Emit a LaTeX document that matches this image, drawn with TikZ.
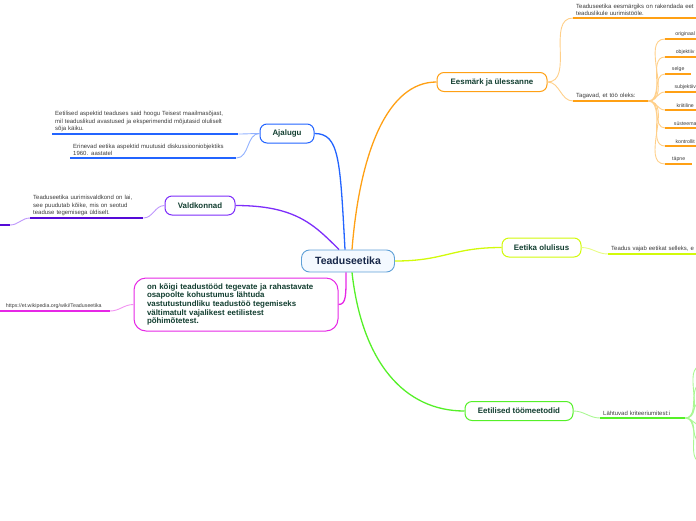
\documentclass[tikz,border=0pt]{standalone}
\usepackage{fontspec}
\setmainfont{Liberation Sans}
\definecolor{RootLine}{RGB}{95,160,215}
\definecolor{RootFill}{RGB}{244,249,255}
\definecolor{RootText}{RGB}{22,38,72}
\definecolor{BoxText}{RGB}{18,62,48}
\definecolor{LeafText}{RGB}{60,60,60}
\definecolor{BranchOrange}{RGB}{255,160,20}
\definecolor{BranchBlue}{RGB}{35,100,255}
\definecolor{BranchPurple}{RGB}{125,45,250}
\definecolor{DeepPurple}{RGB}{85,10,215}
\definecolor{BranchMagenta}{RGB}{230,40,230}
\definecolor{BranchLime}{RGB}{210,250,10}
\definecolor{BranchGreen}{RGB}{85,240,40}
\usetikzlibrary{calc}

\begin{document}
\begin{tikzpicture}[x=1pt,y=-1pt,
  mainbox/.style={draw=#1,fill=white,rounded corners=7pt,line width=1pt,font=\fontsize{7.9}{8.6}\selectfont\bfseries,text=BoxText,minimum height=19pt,inner xsep=6pt},
  leaf/.style={anchor=south west,font=\fontsize{6}{7.4}\selectfont,text=LeafText,align=left,inner xsep=3pt,inner ysep=2pt},
  uline/.style={draw=#1,line width=1.6pt},
  link/.style={draw=#1,line width=1.3pt},
  twig/.style={draw=#1!50,line width=0.9pt}]
  \useasboundingbox (0,0) rectangle (696,520);
  \clip (0,0) rectangle (696,520);

  \node[draw=RootLine,fill=RootFill,rounded corners=8pt,line width=0.9pt,minimum width=93pt,minimum height=22pt,font=\fontsize{10.5}{12}\selectfont\bfseries,text=RootText] (root) at (348,261) {Teaduseetika};

  \node[mainbox=BranchOrange,minimum width=110pt] (goal) at (492,82) {Eesmärk ja ülessanne};
  \node[mainbox=BranchBlue,minimum width=54pt] (hist) at (287,133.5) {Ajalugu};
  \node[mainbox=BranchPurple,minimum width=70pt] (field) at (200,205.5) {Valdkonnad};
  \node[mainbox=BranchMagenta,minimum width=204pt,minimum height=53pt,text width=178pt,align=left,inner xsep=13pt,rounded corners=12pt] (duty) at (236,304.5) {on kõigi teadustööd tegevate ja rahastavate\\osapoolte kohustumus lähtuda\\vastutustundliku teadustöö tegemiseks\\vältimatult vajalikest eetilistest\\põhimõtetest.};
  \node[mainbox=BranchLime,minimum width=79pt] (need) at (541.5,247.5) {Eetika olulisus};
  \node[mainbox=BranchGreen,minimum width=108pt] (method) at (519,411) {Eetilised töömeetodid};

  \draw[link=BranchOrange] ($(root.north)+(4,0)$) .. controls +(8,-100) and +(-48,0) .. (goal.west);
  \draw[link=BranchBlue] (hist.east) .. controls +(25,0) and +(-5,-90) .. ($(root.north)+(-3,0)$);
  \draw[link=BranchPurple] (field.east) .. controls +(60,0) and +(-25,-25) .. ($(root.north)+(-9,0)$);
  \draw[link=BranchMagenta] ($(root.south)+(-2,0)$) .. controls +(0,22) and +(8,0) .. (duty.east);
  \draw[link=BranchLime] (root.east) .. controls +(50,0) and +(-50,0) .. (need.west);
  \draw[link=BranchGreen] ($(root.south)+(4,0)$) .. controls +(10,90) and +(-60,0) .. (method.west);

  \node[leaf,text width=200pt] (goalA) at (573,18) {Teaduseetika eesmärgiks on rakendada eet\\teaduslikule uurimistööle.};
  \node[leaf,text width=69pt] (goalB) at (573,101) {Tagavad, et töö oleks:};
  \draw[twig=BranchOrange] (goal.east) to[out=0,in=180] (goalA.south west);
  \draw[twig=BranchOrange] (goal.east) to[out=0,in=180] (goalB.south west);
  \draw[uline=BranchOrange] (goalA.south west) -- (goalA.south east);
  \draw[uline=BranchOrange] (goalB.south west) -- (goalB.south east);
  \foreach \y/\w/\t [count=\i] in {39/40/originaal,57/40/objektiiv,74/26/selge,92/40/subjektiiv,110/40/kriitiline,128/40/süsteema,146/40/kontrollit,164/27/täpne}{
    \node[leaf,minimum width=\w pt,inner xsep=3pt,font=\fontsize{5.2}{7}\selectfont] (q\i) at (665,\y) {\t};
    \draw[twig=BranchOrange] (goalB.south east) to[out=0,in=180] (q\i.south west);
    \draw[uline=BranchOrange] (q\i.south west) -- (q\i.south east);
  }

  \node[leaf,text width=180pt] (histA) at (52,134) {Eetilised aspektid teaduses said hoogu Teisest maailmasõjast,\\mil teaduslikud avastused ja eksperimendid mõjutasid oluliselt\\sõja käiku.};
  \node[leaf,text width=160pt] (histB) at (70,158) {Erinevad eetika aspektid muutusid diskussiooniobjektiks\\1960. aastatel};
  \draw[twig=BranchBlue] (hist.west) to[out=180,in=0] (histA.south east);
  \draw[twig=BranchBlue] (hist.west) to[out=180,in=0] (histB.south east);
  \draw[uline=BranchBlue] (histA.south west) -- (histA.south east);
  \draw[uline=BranchBlue] (histB.south west) -- (histB.south east);

  \node[leaf,text width=107pt] (fieldA) at (30,218) {Teaduseetika uurimisvaldkond on lai,\\see puudutab kõike, mis on seotud\\teaduse tegemisega üldiselt.};
  \coordinate (fieldB) at (10,225);
  \coordinate (fieldBend) at (-10,225);
  \draw[twig=BranchPurple] (field.west) to[out=180,in=0] (fieldA.south east);
  \draw[twig=BranchPurple] (fieldA.south west) to[out=180,in=0] (fieldB);
  \draw[uline=DeepPurple] (fieldA.south west) -- (fieldA.south east);
  \draw[uline=DeepPurple] (fieldB) -- (fieldBend);

  \node[leaf,anchor=south east,font=\fontsize{5.3}{7}\selectfont,minimum width=112pt,align=right] (src) at (110,311) {https://et.wikipedia.org/wiki/Teaduseetika};
  \draw[twig=BranchMagenta] (duty.west) to[out=180,in=0] (src.south east);
  \draw[uline=BranchMagenta] (src.south west) -- (src.south east);

  \node[leaf,text width=120pt] (needA) at (608,254) {Teadus vajab eetikat selleks, e};
  \draw[twig=BranchLime] (need.east) to[out=0,in=180] (needA.south west);
  \draw[uline=BranchLime] (needA.south west) -- (needA.south east);

  \node[leaf,text width=79pt] (methodA) at (600,418) {Lähtuvad kriteeriumitest:i};
  \draw[twig=BranchGreen] (method.east) to[out=0,in=180] (methodA.south west);
  \draw[uline=BranchGreen] (methodA.south west) -- (methodA.south east);
  \foreach \y [count=\i] in {366,384,401,426,443,462}{
    \coordinate (g\i) at (702,\y);
    \draw[twig=BranchGreen] (methodA.south east) to[out=0,in=180] (g\i);
  }
\end{tikzpicture}
\end{document}
